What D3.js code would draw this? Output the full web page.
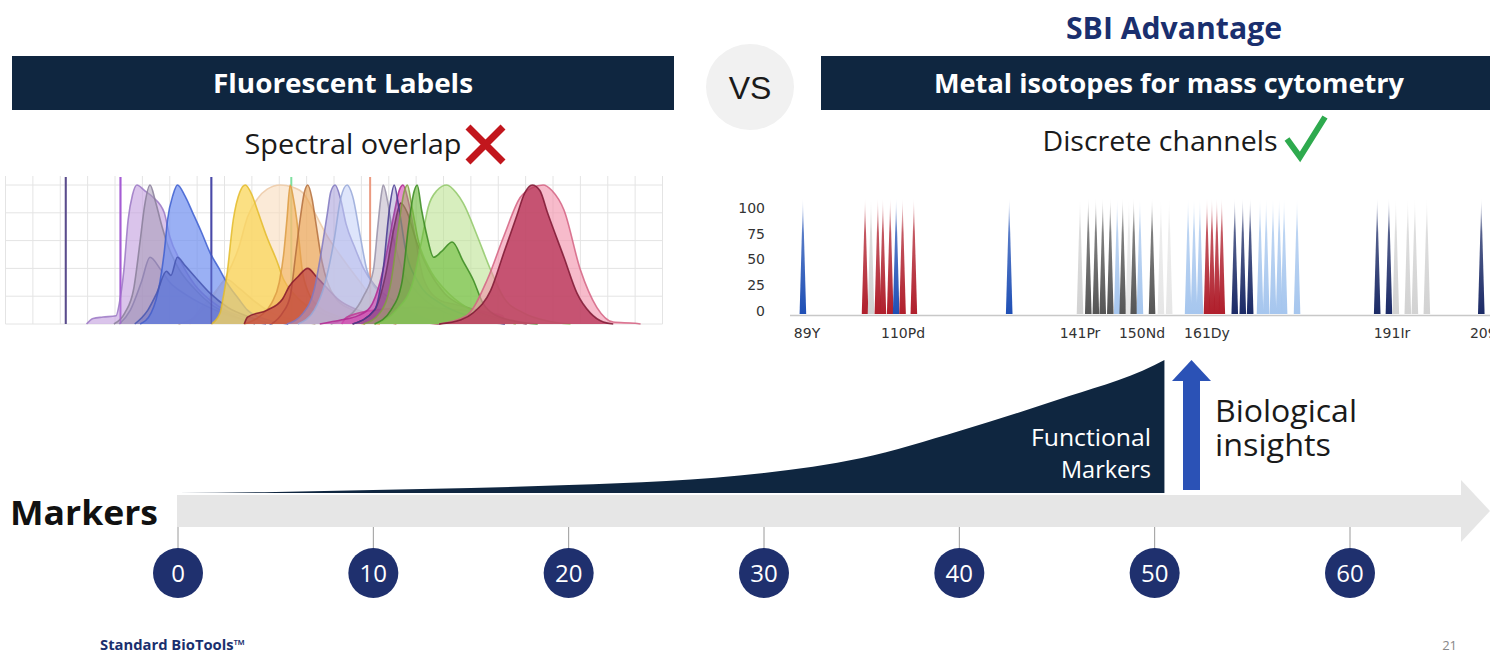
<!DOCTYPE html>
<html><head><meta charset="utf-8">
<script src="https://cdn.jsdelivr.net/npm/d3@7"></script>
<style>html,body{margin:0;padding:0;background:#fff;}svg{display:block;}</style>
</head><body><svg id="c" width="1490" height="655"></svg>
<script>
// ================= DATA =================
// Fluorescent emission spectra: [wavelength nm, relative intensity %]
const specTan       = [[458,0],[473,5],[488,18],[502,32],[513,26],[528,16],[543,8],[563,3],[583,0]];
const specPeach     = [[468,0],[477,10],[488,20],[502,35],[513,55],[521,77],[530,90],[539,97],[551,100],[562,98.5],[572,94],[581,82],[594,63],[607,48],[624,30],[637,17],[652,8],[677,2],[697,0]];
const specBV421     = [[374,0],[380,4],[389,5],[401,6],[404,15],[408,38],[412,75],[416,93],[420,100],[427,96],[435,91],[445,80],[450,63],[460,45],[473,28],[487,17],[503,9],[523,4],[543,0]];
const specViolet2   = [[404,0],[414,10],[424,30],[432,48],[441,40],[450,30],[463,22],[478,15],[498,8],[518,3],[538,0]];
const specGrayViol  = [[399,0],[409,8],[417,25],[423,60],[427,85],[432,100],[437,88],[443,70],[449,55],[458,40],[473,25],[488,14],[508,6],[528,0]];
const specBlue      = [[423,0],[433,8],[441,30],[445,52],[448,75],[453,93],[457,100],[464,92],[471,80],[479,66],[487,51],[495,40],[502,30],[513,18],[521,10],[539,3],[558,0]];
const specBlue2     = [[418,0],[430,10],[438,22],[447,38],[451,35],[457,48],[464,42],[473,34],[487,22],[503,12],[523,5],[543,0]];
const specYellow    = [[488,0],[496,8],[499,20],[502,34],[508,75],[514,95],[519,100],[525,93],[530,82],[539,62],[548,45],[554,32],[563,22],[572,15],[588,8],[608,3],[628,0]];
const specOrange    = [[518,0],[533,6],[543,15],[550,30],[554,50],[557,75],[560,100],[563,90],[566,75],[571,39],[577,22],[587,12],[602,6],[622,2],[642,0]];
const specPE        = [[543,0],[553,8],[560,20],[565,50],[569,75],[573,95],[576,100],[580,90],[583,75],[589,45],[594,30],[602,18],[617,10],[637,4],[657,0]];
const specDarkRed   = [[518,0],[521,5],[539,10],[553,18],[559,27],[567,34],[576,40],[584,34],[590,29],[605,17],[622,10],[642,5],[667,2],[697,0]];
const specPurple    = [[557,0],[572,8],[582,25],[589,55],[594,80],[597,95],[601,100],[606,90],[611,72],[619,55],[627,40],[637,28],[652,18],[672,8],[697,0]];
const specLightBlue = [[567,0],[582,10],[592,30],[600,60],[606,90],[612,100],[617,92],[624,63],[630,39],[642,22],[657,12],[677,5],[697,0]];
const specGray      = [[597,0],[617,8],[627,20],[636,39],[640,70],[643,92],[645,100],[649,88],[654,63],[662,40],[677,22],[697,10],[726,3],[756,0]];
const specMagLow    = [[607,0],[612,5],[637,10],[677,12],[716,10],[741,8],[754,6],[756,0]];
const specMagenta   = [[587,0],[607,3],[622,6],[633,12],[642,30],[649,55],[655,80],[660,97],[663,100],[668,88],[674,63],[682,32],[697,17],[711,14],[726,11],[741,8],[752,5],[756,0]];
const specMaroon    = [[617,0],[637,10],[647,35],[655,70],[661,87],[667,80],[675,60],[687,38],[701,22],[721,12],[746,5],[776,0]];
const specNavyViol  = [[617,0],[637,10],[645,40],[651,85],[655,100],[659,85],[665,55],[677,30],[697,15],[726,5],[756,0]];
const specOlive     = [[627,0],[642,8],[652,30],[659,70],[664,95],[667,100],[671,85],[677,60],[687,40],[701,25],[721,12],[746,4],[766,0]];
const specLightGrn  = [[637,0],[657,10],[672,30],[680,60],[686,84],[694,96],[703,100],[712,94],[718,87],[731,63],[743,39],[755,19],[773,8],[796,2],[816,0]];
const specGreen     = [[637,0],[652,10],[662,30],[668,70],[673,95],[676,100],[680,82],[685,63],[691,48],[698,52],[708,59],[718,45],[727,32],[736,15],[746,7],[766,2],[786,0]];
const specPink      = [[696,0],[721,6],[740,32],[755,63],[770,91],[781,98],[791,100],[799,96],[810,82],[825,39],[840,12],[855,1.4],[875,0.5],[880,0]];
const specCrimson   = [[696,0],[716,3],[727,8],[743,24],[755,51],[767,78],[774,94],[781,100],[788,96],[795,80],[810,48],[822,22],[834,8],[846,1.4],[855,0]];
const laserLines    = [355, 405, 488, 561, 633];

// Mass cytometry channels
const massTicks      = [89, 110, 141, 150, 161, 191, 209];
const massTickLabels = ["89Y", "110Pd", "141Pr", "150Nd", "161Dy", "191Ir", "209Bi"];
const intensityTicks = [0, 25, 50, 75, 100];
const peakMasses = [88.1,101.7,103,104.5,105.6,107.2,108.5,109.9,111.9,128.6,
  141,142.2,143.3,144.3,145.4,146.4,147.2,148.1,148.8,149.7,151.7,153.2,154.6,
  157.8,158.8,159.8,161,161.8,162.6,163.4,165.5,166.8,168,169.6,170.6,171.7,172.7,173.5,175.6,
  188.6,190.5,191.7,193.9,195.2,197.4,207.4];
const peakGroups = ["blue","red","lightgray","red","red","red","blue","red","red","blue",
  "lightgray","darkgray","darkgray","darkgray","darkgray","lightblue","darkgray","faint","darkgray","lightblue","darkgray","faint","faint",
  "lightblue","lightblue","lightblue","red","red","red","red","navy","navy","navy","lightblue","lightblue","lightblue","lightblue","lightblue","lightblue",
  "navy","navy","lightgray","lightgray","lightgray","lightgray","navy"];
const peakValues = [110,110,110,110,110,110,110,110,110,110,
  110,110,110,110,110,110,110,110,110,110,110,110,110,
  110,110,110,110,110,110,110,110,110,110,110,110,110,110,110,110,
  110,110,110,110,110,110,110];

// Marker capacity timeline
const markerTicks = [0, 10, 20, 30, 40, 50, 60];
const functionalMarkers = [0, 5, 10, 15, 20, 25, 30, 35, 40, 45, 50, 50.5];
const functionalDepth   = [0, 1, 3, 5, 8, 12, 20, 35, 62, 93, 128, 133];

// ================= STYLES =================
const NAVY = "#0f2640";
const specStyle = {
  tan:["#c9b2a2",0.5,"#b09888"], peach:["#f9dcbc",0.6,"#ecc9a6"], bv421:["#c6a4e0",0.65,"#9b78c4"],
  violet2:["#8068b8",0.3,"#7060a8"], grayviol:["#a79cb6",0.55,"#8a7f9a"], blue:["#7392f0",0.72,"#3e5fd0"],
  blue2:["#4b5cc0",0.38,"#4656b0"], yellow:["#f9d55a",0.75,"#e3bb2c"], orange:["#f2b25a",0.62,"#dc9c44"],
  pe:["#e9a150",0.62,"#b4703e"], darkred:["#b82f3a",0.62,"#86182a"], purple:["#a49ad8",0.55,"#8078c0"],
  lightblue:["#c2d0f8",0.55,"#98a8d8"], gray:["#c2b9c9",0.6,"#9890a8"], maglow:["#d24fa8",0.5,"#c03c96"],
  magenta:["#d449b4",0.62,"#b02890"], maroon:["#933052",0.45,"#722040"], navyviol:["#6e5eb0",0.3,"#463890"],
  olive:["#a3ba62",0.5,"#7fa040"], lightgrn:["#bce393",0.6,"#92c86a"], green:["#6cbc3a",0.62,"#3a8a20"],
  pink:["#f292ab",0.62,"#d36383"], crimson:["#b93a5b",0.8,"#7e1732"]
};
const specOrder = [
  ["tan",specTan],["peach",specPeach],["bv421",specBV421],["violet2",specViolet2],["grayviol",specGrayViol],
  ["blue",specBlue],["blue2",specBlue2],["yellow",specYellow],["orange",specOrange],["pe",specPE],
  ["darkred",specDarkRed],["purple",specPurple],["lightblue",specLightBlue],["gray",specGray],
  ["maglow",specMagLow],["magenta",specMagenta],["maroon",specMaroon],["navyviol",specNavyViol],
  ["olive",specOlive],["lightgrn",specLightGrn],["green",specGreen],["pink",specPink],["crimson",specCrimson]
];
const laserColors = ["#5a4c8c","#a55cd4","#4a4aa8","#7fe0a0","#eb9a80"];
const peakColors = {blue:"#1f4fb5", red:"#b01f2c", lightgray:"#d2d2d2", darkgray:"#555555",
  faint:"#e6e6e6", lightblue:"#a6c6ee", navy:"#1b2a66"};

const svg = d3.select("#c");
const defs = svg.append("defs");

// ================= HEADERS =================
const sansB = "'Open Sans', 'Noto Sans', sans-serif";
svg.append("rect").attr("x",12).attr("y",56).attr("width",662).attr("height",54).attr("fill",NAVY);
svg.append("rect").attr("x",821).attr("y",56).attr("width",669).attr("height",54).attr("fill",NAVY);
svg.append("text").attr("x",343).attr("y",93).attr("text-anchor","middle").attr("fill","#fff")
  .attr("font-family",sansB).attr("font-weight",700).attr("font-size",27).attr("textLength",260)
  .attr("lengthAdjust","spacingAndGlyphs").text("Fluorescent Labels");
svg.append("text").attr("x",1169).attr("y",93).attr("text-anchor","middle").attr("fill","#fff")
  .attr("font-family",sansB).attr("font-weight",700).attr("font-size",27).attr("textLength",470)
  .attr("lengthAdjust","spacingAndGlyphs").text("Metal isotopes for mass cytometry");
svg.append("text").attr("x",1174).attr("y",39).attr("text-anchor","middle").attr("fill","#1a2f6e")
  .attr("font-family",sansB).attr("font-weight",700).attr("font-size",30).attr("textLength",216)
  .attr("lengthAdjust","spacingAndGlyphs").text("SBI Advantage");
svg.append("ellipse").attr("cx",750).attr("cy",87).attr("rx",44).attr("ry",43).attr("fill","#f1f1f1");
svg.append("text").attr("x",750).attr("y",99).attr("text-anchor","middle").attr("fill","#1a1a1a")
  .attr("font-family","'Liberation Sans', Arial, sans-serif").attr("font-size",32).text("VS");
svg.append("text").attr("x",353).attr("y",154).attr("text-anchor","middle").attr("fill","#1a1a1a")
  .attr("font-family",sansB).attr("font-size",28).attr("textLength",217)
  .attr("lengthAdjust","spacingAndGlyphs").text("Spectral overlap");
svg.append("path").attr("d","M468,127 L503,162 M503,127 L468,162").attr("stroke","#c2161d")
  .attr("stroke-width",7).attr("fill","none");
svg.append("text").attr("x",1160).attr("y",151).attr("text-anchor","middle").attr("fill","#1a1a1a")
  .attr("font-family",sansB).attr("font-size",28).attr("textLength",235)
  .attr("lengthAdjust","spacingAndGlyphs").text("Discrete channels");
svg.append("path").attr("d","M1287,139 L1300,157 L1325,117").attr("stroke","#2eaa4e")
  .attr("stroke-width",6).attr("fill","none").attr("stroke-linejoin","miter");

// ================= SPECTRA PANEL =================
const xs = d3.scaleLinear().domain([300,900]).range([5.5,662.5]);
const ys = d3.scaleLinear().domain([0,100]).range([324,185]);
const gS = svg.append("g");
gS.selectAll("line.vg").data(d3.range(300,901,25)).join("line").attr("class","vg")
  .attr("x1",d=>xs(d)).attr("x2",d=>xs(d)).attr("y1",176).attr("y2",ys(0))
  .attr("stroke","#e4e4e4").attr("stroke-width",1);
gS.selectAll("line.hg").data([0,20,40,60,80,100]).join("line").attr("class","hg")
  .attr("x1",xs(300)).attr("x2",xs(900)).attr("y1",d=>ys(d)).attr("y2",d=>ys(d))
  .attr("stroke","#e4e4e4").attr("stroke-width",1);
gS.selectAll("line.laser").data(laserLines).join("line").attr("class","laser")
  .attr("x1",d=>xs(d)).attr("x2",d=>xs(d)).attr("y1",177).attr("y2",ys(0))
  .attr("stroke",(d,i)=>laserColors[i]).attr("stroke-width",2);
const area = d3.area().x(d=>xs(d[0])).y0(ys(0)).y1(d=>ys(d[1])).curve(d3.curveMonotoneX);
const line = d3.line().x(d=>xs(d[0])).y(d=>ys(d[1])).curve(d3.curveMonotoneX);
specOrder.forEach(([k,data])=>{
  const st = specStyle[k];
  gS.append("path").attr("d",area(data)).attr("fill",st[0]).attr("fill-opacity",st[1]);
  gS.append("path").attr("d",line(data)).attr("fill","none").attr("stroke",st[2])
    .attr("stroke-width",1.6).attr("stroke-opacity",0.85);
});
gS.selectAll("line.laser2").data(laserLines.slice(0,3)).join("line").attr("class","laser2")
  .attr("x1",d=>xs(d)).attr("x2",d=>xs(d)).attr("y1",177).attr("y2",ys(0))
  .attr("stroke",(d,i)=>laserColors[i]).attr("stroke-width",1.5).attr("stroke-opacity",0.6);

// ================= MASS CYTOMETRY PANEL =================
const xm = d3.scaleLinear().domain(massTicks).range([807,903,1080,1142,1207,1392,1490]);
const ym = d3.scaleLinear().domain([0,100]).range([311,208]);
const gM = svg.append("g");
Object.entries(peakColors).forEach(([k,c])=>{
  const lg = defs.append("linearGradient").attr("id","pg-"+k).attr("x1",0).attr("y1",0).attr("x2",0).attr("y2",1);
  lg.append("stop").attr("offset","0%").attr("stop-color",c).attr("stop-opacity",0);
  lg.append("stop").attr("offset","30%").attr("stop-color",c).attr("stop-opacity",0.75);
  lg.append("stop").attr("offset","100%").attr("stop-color",c).attr("stop-opacity",1);
});
gM.append("line").attr("x1",790).attr("x2",1490).attr("y1",ym(0)+4.5).attr("y2",ym(0)+4.5)
  .attr("stroke","#c8c8c8").attr("stroke-width",1.5);
gM.selectAll("path.peak").data(peakMasses).join("path").attr("class","peak")
  .attr("d",(m,i)=>{const x=xm(m), b=ym(0)+3, t=ym(peakValues[i]);
    return `M${x-3.3},${b}L${x},${t}L${x+3.3},${b}Z`;})
  .attr("fill",(m,i)=>`url(#pg-${peakGroups[i]})`);
gM.selectAll("text.yt").data(intensityTicks).join("text").attr("class","yt")
  .attr("x",765).attr("y",d=>ym(d)).attr("dy","0.35em").attr("text-anchor","end")
  .attr("font-family","'DejaVu Sans', Verdana, sans-serif").attr("font-size",14).attr("fill","#333").text(d=>d);
gM.selectAll("text.xt").data(massTicks).join("text").attr("class","xt")
  .attr("x",d=>xm(d)).attr("y",338).attr("text-anchor","middle")
  .attr("font-family","'DejaVu Sans', Verdana, sans-serif").attr("font-size",14).attr("fill","#333")
  .text((d,i)=>massTickLabels[i]);

// ================= MARKERS TIMELINE =================
const xk = d3.scaleLinear().domain([0,60]).range([178,1350]);
const yk = d3.scaleLinear().domain([0,140]).range([493,353]);
const gB = svg.append("g");
const fData = functionalMarkers.map((m,i)=>[m,functionalDepth[i]]);
gB.append("path").attr("d", d3.area().x(d=>xk(d[0])).y0(yk(0)).y1(d=>yk(d[1])).curve(d3.curveMonotoneX)(fData))
  .attr("fill",NAVY);
gB.append("rect").attr("x",xk(0)-1).attr("y",495).attr("width",1462-xk(0)+1).attr("height",32).attr("fill","#e6e6e6");
gB.append("path").attr("d","M1461,480 L1490,511 L1461,542 Z").attr("fill","#e6e6e6");
gB.append("text").attr("x",10).attr("y",525).attr("font-family",sansB).attr("font-weight",700)
  .attr("font-size",34).attr("fill","#111").attr("textLength",148)
  .attr("lengthAdjust","spacingAndGlyphs").text("Markers");
gB.selectAll("line.mt").data(markerTicks).join("line").attr("class","mt")
  .attr("x1",d=>xk(d)).attr("x2",d=>xk(d)).attr("y1",527).attr("y2",552).attr("stroke","#9a9a9a").attr("stroke-width",1);
gB.selectAll("circle.mc").data(markerTicks).join("circle").attr("class","mc")
  .attr("cx",d=>xk(d)).attr("cy",573).attr("r",25).attr("fill","#1f306e");
gB.selectAll("text.mtl").data(markerTicks).join("text").attr("class","mtl")
  .attr("x",d=>xk(d)).attr("y",573).attr("dy","0.36em").attr("text-anchor","middle")
  .attr("font-family",sansB).attr("font-size",24).attr("fill","#fff").text(d=>d);
gB.append("text").attr("x",1151).attr("y",446).attr("text-anchor","end").attr("fill","#fff")
  .attr("font-family",sansB).attr("font-size",24).attr("textLength",120)
  .attr("lengthAdjust","spacingAndGlyphs").text("Functional");
gB.append("text").attr("x",1151).attr("y",478).attr("text-anchor","end").attr("fill","#fff")
  .attr("font-family",sansB).attr("font-size",24).attr("textLength",90)
  .attr("lengthAdjust","spacingAndGlyphs").text("Markers");
gB.append("rect").attr("x",1183).attr("y",378).attr("width",17).attr("height",112).attr("fill","#2b52b6");
gB.append("path").attr("d","M1172,381 L1191.5,360 L1211,381 Z").attr("fill","#2b52b6");
gB.append("text").attr("x",1215).attr("y",422).attr("fill","#1a1a1a").attr("font-family",sansB)
  .attr("font-size",31).attr("textLength",142).attr("lengthAdjust","spacingAndGlyphs").text("Biological");
gB.append("text").attr("x",1215).attr("y",456).attr("fill","#1a1a1a").attr("font-family",sansB)
  .attr("font-size",31).attr("textLength",116).attr("lengthAdjust","spacingAndGlyphs").text("insights");
svg.append("text").attr("x",100).attr("y",650).attr("font-family",sansB).attr("font-weight",700)
  .attr("font-size",14).attr("fill","#1a2f6e").attr("textLength",145)
  .attr("lengthAdjust","spacingAndGlyphs").text("Standard BioTools™");
svg.append("text").attr("x",1457).attr("y",650).attr("text-anchor","end").attr("font-family",sansB)
  .attr("font-size",13).attr("fill","#888").text("21");
</script></body></html>
